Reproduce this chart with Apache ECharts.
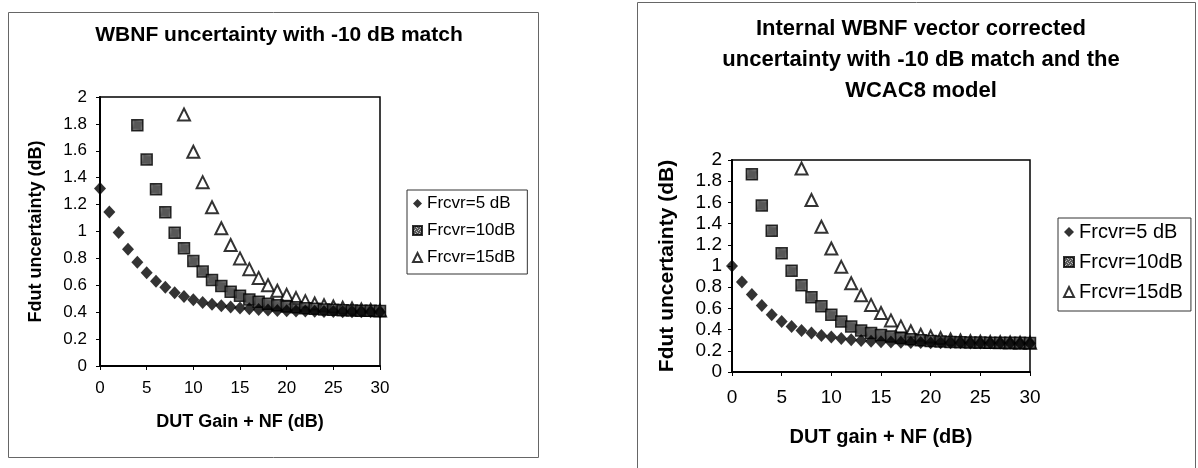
<!DOCTYPE html>
<html><head><meta charset="utf-8">
<script src="https://cdn.jsdelivr.net/npm/echarts@6/dist/echarts.min.js"></script>
<style>html,body{margin:0;padding:0;background:#fff}#c{width:1198px;height:468px}</style>
</head><body><div id="c"></div><script>
// ---- data ----
const xs = [0,1,2,3,4,5,6,7,8,9,10,11,12,13,14,15,16,17,18,19,20,21,22,23,24,25,26,27,28,29,30];
const seriesNames = ['Frcvr=5 dB', 'Frcvr=10dB', 'Frcvr=15dB'];
const xTicks = [0,5,10,15,20,25,30];
const yTicks = [0,0.2,0.4,0.6,0.8,1,1.2,1.4,1.6,1.8,2];

const leftTitle = 'WBNF uncertainty with -10 dB match';
const leftXName = 'DUT Gain + NF (dB)';
const leftF5  = [1.32,1.145,0.993,0.868,0.771,0.694,0.63,0.585,0.545,0.517,0.492,0.473,0.46,0.448,0.439,0.431,0.425,0.42,0.416,0.413,0.411,0.409,0.408,0.407,0.406,0.405,0.404,0.404,0.403,0.403,0.402];
const leftF10 = [null,null,null,null,1.79,1.535,1.315,1.143,0.99,0.876,0.78,0.702,0.64,0.594,0.552,0.523,0.495,0.477,0.462,0.451,0.443,0.436,0.43,0.425,0.421,0.418,0.415,0.413,0.411,0.41,0.409];
const leftF15 = [null,null,null,null,null,null,null,null,null,1.87,1.593,1.367,1.18,1.024,0.90,0.80,0.72,0.655,0.60,0.56,0.529,0.505,0.482,0.465,0.452,0.442,0.434,0.427,0.421,0.416,0.412];

const rightTitle = 'Internal WBNF vector corrected\nuncertainty with -10 dB match and the\nWCAC8 model';
const rightXName = 'DUT gain + NF (dB)';
const rightF5  = [1.0,0.85,0.73,0.628,0.54,0.477,0.43,0.392,0.367,0.345,0.33,0.316,0.305,0.296,0.29,0.286,0.283,0.281,0.279,0.278,0.277,0.276,0.275,0.275,0.274,0.274,0.273,0.273,0.273,0.272,0.272];
const rightF10 = [null,null,1.865,1.57,1.332,1.12,0.955,0.818,0.706,0.621,0.54,0.477,0.43,0.392,0.367,0.35,0.336,0.32,0.308,0.3,0.293,0.288,0.284,0.281,0.279,0.278,0.277,0.276,0.275,0.275,0.274];
const rightF15 = [null,null,null,null,null,null,null,1.92,1.622,1.37,1.165,0.992,0.837,0.724,0.633,0.556,0.487,0.43,0.385,0.352,0.335,0.32,0.306,0.298,0.29,0.285,0.282,0.28,0.278,0.277,0.276];

const yName = 'Fdut uncertainty (dB)';

// ---- styling ----
const FONT = '"Liberation Sans", Arial, sans-serif';
function mkPattern(){
  const c = document.createElement('canvas'); c.width = 4; c.height = 4;
  const g = c.getContext('2d');
  g.fillStyle = '#2e2e2e'; g.fillRect(0,0,4,4);
  g.fillStyle = '#a8a8a8';
  g.fillRect(1,0,1,1); g.fillRect(3,1,1,1); g.fillRect(0,2,1,1); g.fillRect(2,3,1,1);
  return c;
}
const sqFill = { image: mkPattern(), repeat: 'repeat' };

function pairs(arr){ const out=[]; xs.forEach((x,i)=>{ if(arr[i]!=null) out.push([x,arr[i]]); }); return out; }

function mkSeries(name, arr, idx, kind){
  const base = { name, type:'scatter', xAxisIndex: idx, yAxisIndex: idx, data: pairs(arr), animation:false };
  if (kind === 0) return Object.assign(base, { symbol:'diamond', symbolSize:[12, 13], itemStyle:{ color:'#000' }, z:4 });
  if (kind === 1) return Object.assign(base, { symbol:'rect', symbolSize:11, itemStyle:{ color: sqFill, borderColor:'#000', borderWidth:1.5 }, z:3 });
  return Object.assign(base, { symbol:'triangle', symbolSize:12, itemStyle:{ color:'#fff', borderColor:'#000', borderWidth:2 }, z:2 });
}

function xAxisCfg(idx, name, fs, nfs, gap, margin){
  return { type:'value', gridIndex: idx, min:0, max:30, interval:5,
    name, nameLocation:'middle', nameGap: gap,
    nameTextStyle:{ fontFamily: FONT, fontSize: nfs, fontWeight:'bold', color:'#000' },
    axisLine:{ show:true, lineStyle:{ color:'#000', width:2 } },
    axisTick:{ show:true, length:4, lineStyle:{ color:'#000' } },
    axisLabel:{ fontFamily: FONT, fontSize: fs, color:'#000', margin },
    splitLine:{ show:false } };
}
function yAxisCfg(idx, fs, gap, nfs, margin){
  return { type:'value', gridIndex: idx, min:0, max:2, interval:0.2,
    name: yName, nameLocation:'middle', nameGap: gap,
    nameTextStyle:{ fontFamily: FONT, fontSize: nfs, fontWeight:'bold', color:'#000' },
    axisLine:{ show:true, lineStyle:{ color:'#000', width:2 } },
    axisTick:{ show:true, length:4, lineStyle:{ color:'#000' } },
    axisLabel:{ fontFamily: FONT, fontSize: fs, color:'#000', margin },
    splitLine:{ show:false } };
}

const chart = echarts.init(document.getElementById('c'), null, { renderer:'canvas' });
chart.setOption({
  backgroundColor:'#fff',
  animation:false,
  title:[
    { text: leftTitle, left: 274, top: 20, textAlign:'center',
      textStyle:{ fontFamily: FONT, fontSize: 21, fontWeight:'bold', color:'#000' } },
    { text: rightTitle, left: 916, top: 8, textAlign:'center',
      textStyle:{ fontFamily: FONT, fontSize: 22, fontWeight:'bold', color:'#000', lineHeight: 31 } }
  ],
  legend:[
    { orient:'vertical', left: 407, top: 190,
      data: seriesNames.map(n=>({name:n})),
      padding:[5,12,8,5], itemGap: 10, itemWidth: 9, itemHeight: 9,
      borderColor:'#333', borderWidth:1,
      textStyle:{ fontFamily: FONT, fontSize: 17, color:'#000' },
      selectedMode:false },
    { orient:'vertical', left: 1058, top: 218,
      data: seriesNames.map(n=>({name:n})),
      padding:[4,8,9,5], itemGap: 10, itemWidth: 10, itemHeight: 10,
      borderColor:'#333', borderWidth:1,
      textStyle:{ fontFamily: FONT, fontSize: 20, color:'#000' },
      selectedMode:false }
  ],
  grid:[
    { left:100, top:97, width:280, height:269, show:true, borderColor:'#000', borderWidth:1.5, backgroundColor:'#fff', containLabel:false },
    { left:732, top:160, width:298, height:212, show:true, borderColor:'#000', borderWidth:1.5, backgroundColor:'#fff', containLabel:false }
  ],
  xAxis:[ xAxisCfg(0, leftXName, 17, 18, 47, 14), xAxisCfg(1, rightXName, 19, 20, 55, 16) ],
  yAxis:[ yAxisCfg(0, 17, 55, 18, 13), yAxisCfg(1, 19, 54, 21, 10) ],
  graphic:[
    { type:'rect', silent:true, z:-10, shape:{ x:8.5, y:12.5, width:530, height:445 }, style:{ fill:null, stroke:'#666', lineWidth:1 } },
    { type:'rect', silent:true, z:-10, shape:{ x:637.5, y:2.5, width:558, height:480 }, style:{ fill:null, stroke:'#666', lineWidth:1 } }
  ],
  series:[
    mkSeries(seriesNames[0], leftF5, 0, 0),
    mkSeries(seriesNames[1], leftF10, 0, 1),
    mkSeries(seriesNames[2], leftF15, 0, 2),
    mkSeries(seriesNames[0], rightF5, 1, 0),
    mkSeries(seriesNames[1], rightF10, 1, 1),
    mkSeries(seriesNames[2], rightF15, 1, 2)
  ]
});
</script></body></html>
